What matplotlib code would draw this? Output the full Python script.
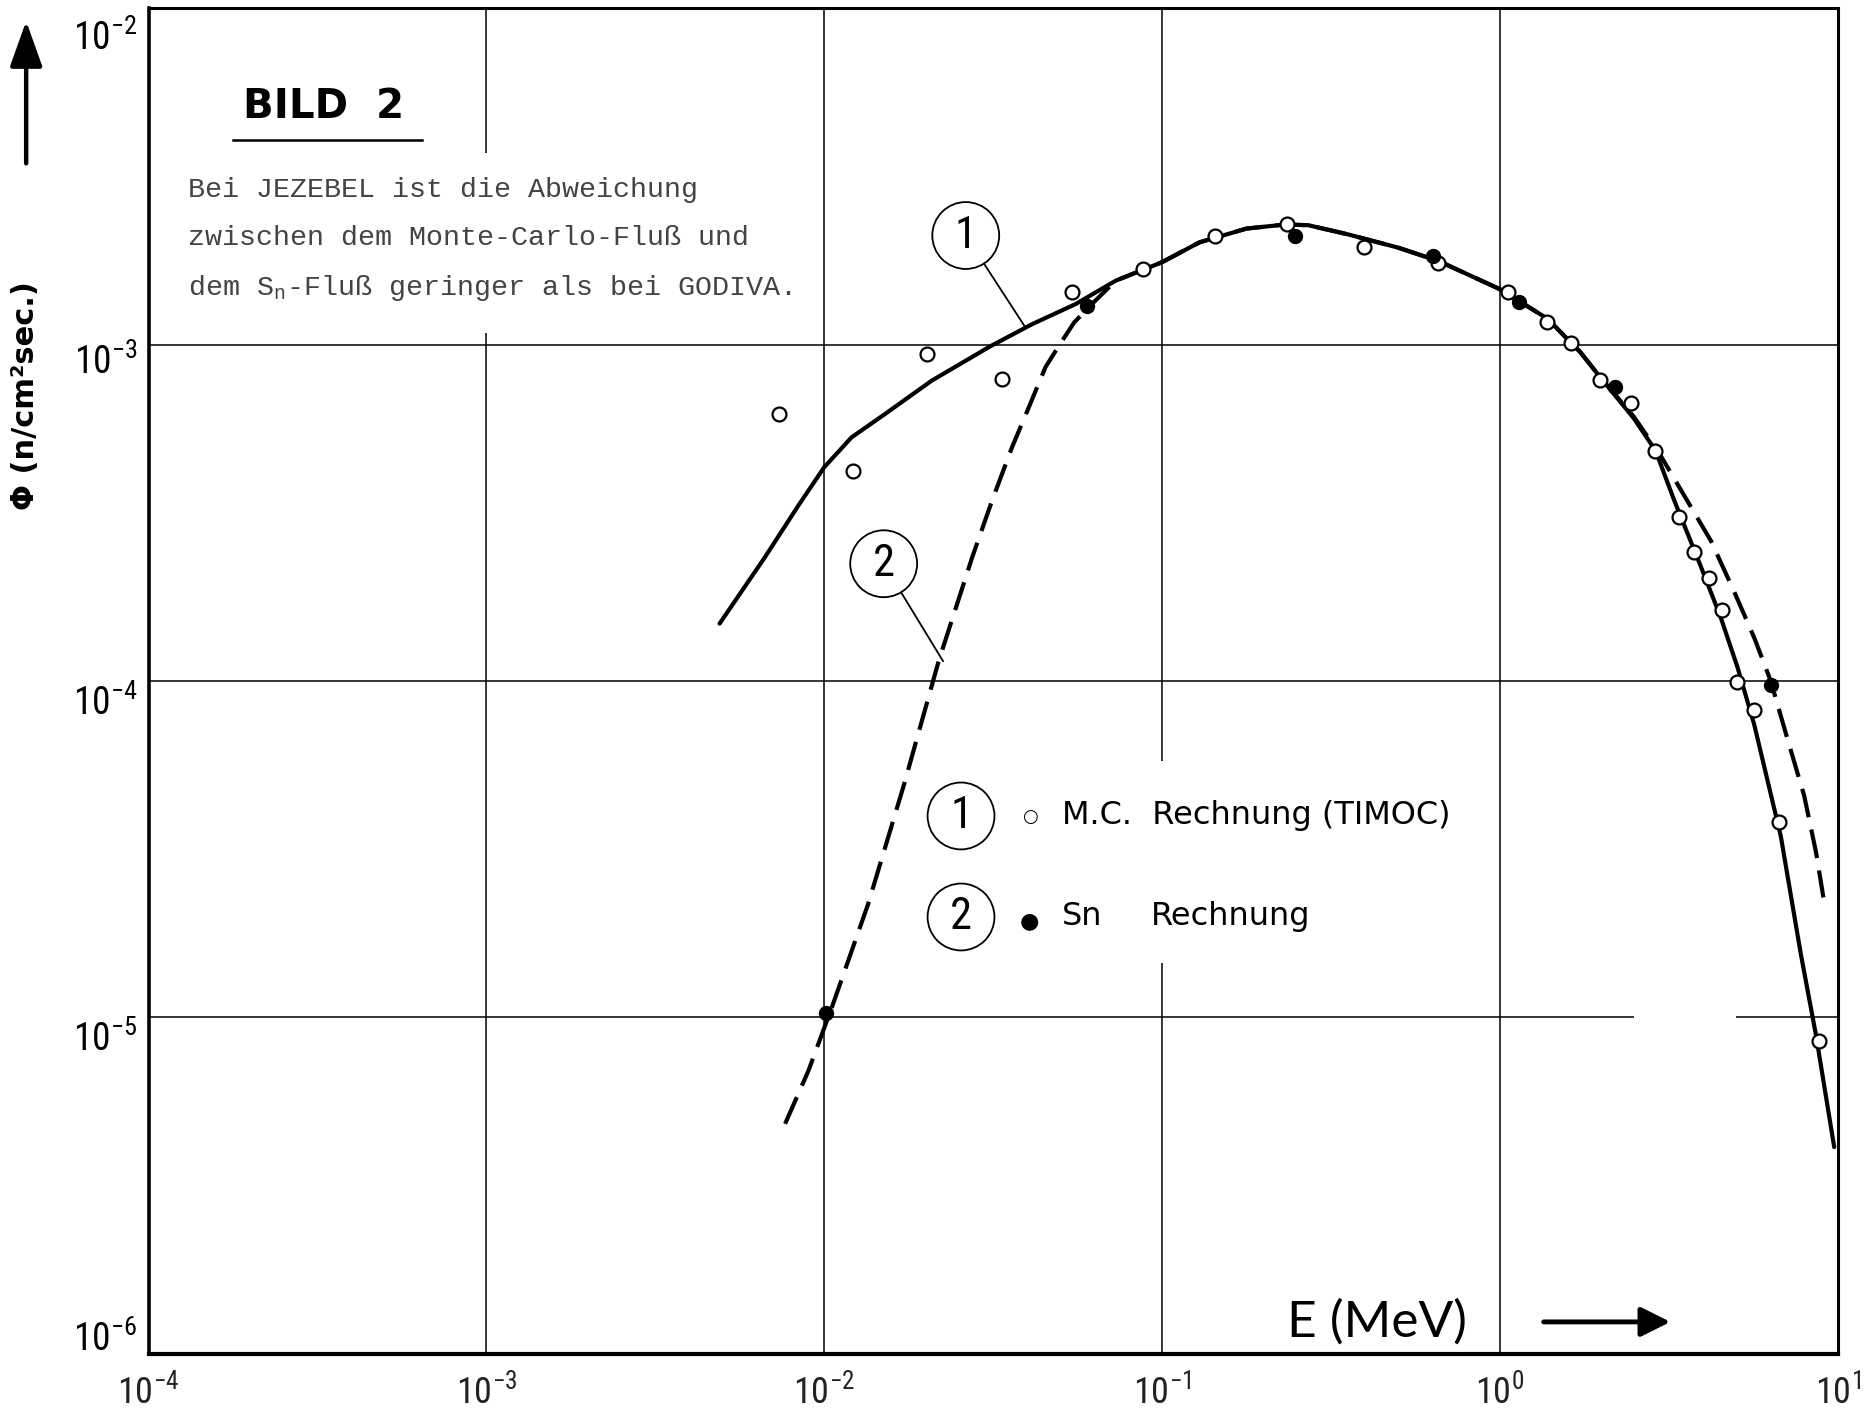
import matplotlib
matplotlib.use('Agg')
import matplotlib.pyplot as plt
from matplotlib import font_manager
from matplotlib.patches import Rectangle
from matplotlib.ticker import NullLocator
from matplotlib.transforms import ScaledTranslation

# ---------------- data ----------------
# Monte-Carlo (TIMOC) results, open circles
mc_E = [0.00734, 0.0122, 0.0202, 0.0335, 0.0543, 0.0878, 0.144, 0.234, 0.397,
        0.656, 1.06, 1.38, 1.63, 1.98, 2.44, 2.89, 3.39, 3.76, 4.17, 4.56,
        5.05, 5.66, 6.71, 8.83]
mc_phi = [6.22e-4, 4.20e-4, 9.4e-4, 7.9e-4, 1.43e-3, 1.68e-3, 2.11e-3, 2.29e-3,
          1.95e-3, 1.75e-3, 1.43e-3, 1.17e-3, 1.01e-3, 7.84e-4, 6.7e-4, 4.84e-4,
          3.08e-4, 2.41e-4, 2.02e-4, 1.63e-4, 9.9e-5, 8.2e-5, 3.8e-5, 8.5e-6]

# Sn results, filled dots
sn_E = [0.0101, 0.0600, 0.248, 0.635, 1.14, 2.2, 6.34]
sn_phi = [1.03e-5, 1.30e-3, 2.11e-3, 1.84e-3, 1.34e-3, 7.5e-4, 9.7e-5]

# curve 1 (solid)
curve1_E = [0.00490, 0.00667, 0.00838, 0.0100, 0.01205, 0.01514, 0.02084,
            0.03105, 0.0413, 0.0556, 0.0729, 0.100, 0.1291, 0.1778, 0.2307,
            0.2710, 0.3548, 0.5012, 0.6607, 1.0, 1.384, 1.734, 1.995, 2.495,
            2.891, 3.281, 3.936, 4.508, 5.058, 5.662, 6.792, 7.780, 8.630, 9.772]
curve1_phi = [1.48e-4, 2.33e-4, 3.32e-4, 4.32e-4, 5.30e-4, 6.22e-4, 7.82e-4,
              9.89e-4, 1.151e-3, 1.321e-3, 1.549e-3, 1.758e-3, 2.014e-3,
              2.213e-3, 2.275e-3, 2.265e-3, 2.128e-3, 1.941e-3, 1.770e-3,
              1.462e-3, 1.194e-3, 9.48e-4, 7.94e-4, 6.03e-4, 4.84e-4, 3.45e-4,
              2.19e-4, 1.545e-4, 1.096e-4, 7.43e-5, 3.45e-5, 1.545e-5, 8.85e-6,
              4.11e-6]

# curve 2 (dashed)
curve2_E = [0.00766, 0.00899, 0.01059, 0.01349, 0.01722, 0.02183, 0.02742,
            0.03141, 0.03597, 0.04036, 0.04519, 0.04955, 0.05495, 0.0631,
            0.0729, 0.100, 0.1291, 0.1778, 0.2307, 0.2710, 0.3548, 0.5012,
            0.6607, 1.0, 1.384, 1.734, 1.995, 2.495, 2.992, 3.508, 4.217,
            4.943, 5.662, 6.339, 7.112, 7.962, 8.630, 9.078]
curve2_phi = [4.82e-6, 6.95e-6, 1.086e-5, 2.17e-5, 4.91e-5, 1.148e-4, 2.33e-4,
              3.44e-4, 4.95e-4, 6.52e-4, 8.57e-4, 9.93e-4, 1.164e-3, 1.343e-3,
              1.549e-3, 1.758e-3, 2.014e-3, 2.213e-3, 2.275e-3, 2.265e-3,
              2.128e-3, 1.941e-3, 1.770e-3, 1.462e-3, 1.194e-3, 9.48e-4,
              7.94e-4, 6.10e-4, 4.68e-4, 3.57e-4, 2.61e-4, 1.841e-4, 1.346e-4,
              1.0e-4, 6.70e-5, 4.56e-5, 3.10e-5, 2.27e-5]

x_ticks = [1e-4, 1e-3, 1e-2, 1e-1, 1e0, 1e1]
x_tick_labels = [r'$\mathregular{10^{-4}}$', r'$\mathregular{10^{-3}}$',
                 r'$\mathregular{10^{-2}}$', r'$\mathregular{10^{-1}}$',
                 r'$\mathregular{10^{0}}$', r'$\mathregular{10^{1}}$']
y_ticks = [1e-6, 1e-5, 1e-4, 1e-3, 1e-2]
y_tick_labels = [r'$\mathregular{10^{-6}}$', r'$\mathregular{10^{-5}}$',
                 r'$\mathregular{10^{-4}}$', r'$\mathregular{10^{-3}}$',
                 r'$\mathregular{10^{-2}}$']
# vertical shift (points, downward) of each y label's baseline as printed
y_label_drop = [-2, 24, 24.5, 21, 30]

title_text = 'BILD  2'
note_lines = ['Bei JEZEBEL ist die Abweichung',
              'zwischen dem Monte-Carlo-Fluß und',
              r'dem $\mathregular{S_n}$-Fluß geringer als bei GODIVA.']
legend_mc = 'M.C.  Rechnung (TIMOC)'
legend_sn = ('Sn', 'Rechnung')
x_label = 'E (MeV)'
y_label = 'Φ (n/cm²sec.)'

# ---------------- fonts ----------------
available = {f.name for f in font_manager.fontManager.ttflist}


def pick(*names):
    for n in names:
        if n in available:
            return n
    return 'DejaVu Sans'


cond = pick('DejaVu Sans Condensed', 'Liberation Sans Narrow', 'Roboto Condensed',
            'DejaVu Sans')
mono = pick('Liberation Mono', 'DejaVu Sans Mono')
light = pick('Lato', 'Open Sans', 'DejaVu Sans')

# ---------------- figure ----------------
fig = plt.figure(figsize=(18.65, 14.08), dpi=100)
fig.patch.set_facecolor('white')
ax = fig.add_axes([0.0797, 0.0387, 0.9056, 0.9554])
ax.set_xscale('log')
ax.set_yscale('log')
ax.set_xlim(1e-4, 1e1)
ax.set_ylim(1e-6, 1e-2)
ax.set_xticks(x_ticks)
ax.set_xticklabels(x_tick_labels, family=cond, fontsize=26, color='#222222')
ax.set_yticks(y_ticks)
ax.set_yticklabels(y_tick_labels, family=cond, fontsize=27)
ax.xaxis.set_minor_locator(NullLocator())
ax.yaxis.set_minor_locator(NullLocator())
ax.tick_params(axis='both', length=0)
ax.tick_params(axis='y', pad=8)
ax.tick_params(axis='x', pad=14)
for lab, drop in zip(ax.get_yticklabels(), y_label_drop):
    lab.set_verticalalignment('baseline')
    lab.set_transform(lab.get_transform() +
                      ScaledTranslation(0, -drop / 72.0, fig.dpi_scale_trans))
ax.grid(True, which='major', color='black', lw=1.1)

for side, lw in (('left', 2.6), ('bottom', 3.0), ('top', 2.2), ('right', 2.2)):
    ax.spines[side].set_linewidth(lw)
    ax.spines[side].set_color('black')

# white areas hiding the grid behind the note, the legend and a print gap
ax.add_patch(Rectangle((0.0176, 0.7586), 0.373, 0.1335, transform=ax.transAxes,
                       fc='white', ec='none', zorder=2))
ax.add_patch(Rectangle((0.4577, 0.29), 0.324, 0.1503, transform=ax.transAxes,
                       fc='white', ec='none', zorder=2))
ax.add_patch(Rectangle((0.8796, 0.245), 0.0605, 0.01, transform=ax.transAxes,
                       fc='white', ec='none', zorder=2))

# curves and points
ax.plot(curve1_E, curve1_phi, color='black', lw=3.0, solid_capstyle='round',
        solid_joinstyle='round', zorder=3)
ax.plot(curve2_E, curve2_phi, color='black', lw=3.0, dashes=(7, 3), zorder=3)
ax.plot(mc_E, mc_phi, ls='none', marker='o', ms=10, mfc='white', mec='black',
        mew=1.6, zorder=4)
ax.plot(sn_E, sn_phi, ls='none', marker='o', ms=10, mfc='black', mec='black',
        zorder=5)

# title block
ax.text(0.1035, 0.9266, title_text, transform=ax.transAxes, ha='center',
        va='center', fontsize=29, fontweight='bold', family='DejaVu Sans', zorder=6)
ax.plot([0.05, 0.162], [0.9019, 0.9019], transform=ax.transAxes, color='black',
        lw=1.8, zorder=6)
for line, yy in zip(note_lines, (0.8647, 0.8294, 0.7922)):
    ax.text(0.0232, yy, line, transform=ax.transAxes, ha='left', va='center',
            family=mono, fontsize=20.4, color='#444444', zorder=6)

# circled numbers
circ_kw = dict(xycoords='axes fraction', textcoords='axes fraction', ha='center',
               va='center', fontsize=32, family=cond, zorder=6,
               bbox=dict(boxstyle='circle,pad=0.28', fc='white', ec='black', lw=1.3))
line_kw = dict(arrowstyle='-', lw=1.3, color='black', shrinkA=0, shrinkB=0)
ax.annotate('1', xy=(0.519, 0.763), xytext=(0.4838, 0.8311), arrowprops=line_kw,
            **circ_kw)
ax.annotate('2', xy=(0.4704, 0.5146), xytext=(0.4352, 0.5871), arrowprops=line_kw,
            **circ_kw)
ax.annotate('1', xy=(0.481, 0.3996), xytext=(0.481, 0.3996), **circ_kw)
ax.annotate('2', xy=(0.481, 0.3245), xytext=(0.481, 0.3245), **circ_kw)

# legend text
ax.text(0.5218, 0.3990, '○', transform=ax.transAxes, ha='center', va='center',
        fontsize=13, zorder=6)
ax.text(0.5218, 0.3215, '●', transform=ax.transAxes, ha='center', va='center',
        fontsize=16, zorder=6)
ax.text(0.5408, 0.3996, legend_mc, transform=ax.transAxes, ha='left',
        va='center', fontsize=23, zorder=6)
ax.text(0.5408, 0.3245, legend_sn[0], transform=ax.transAxes, ha='left',
        va='center', fontsize=23, zorder=6)
ax.text(0.5937, 0.3245, legend_sn[1], transform=ax.transAxes, ha='left',
        va='center', fontsize=23, zorder=6)

# axis labels with arrows
ax.text(0.727, 0.0235, x_label, transform=ax.transAxes, ha='center',
        va='center', fontsize=37, family=light, fontweight='normal',
        color='black', zorder=6)
ax.annotate('', xy=(0.901, 0.0235), xytext=(0.826, 0.0235),
            xycoords='axes fraction', textcoords='axes fraction',
            arrowprops=dict(arrowstyle='-|>,head_length=0.9,head_width=0.45',
                            lw=3.5, color='black', shrinkA=0, shrinkB=0,
                            mutation_scale=20), zorder=6)

fig.text(0.0139, 0.719, y_label, rotation=90, ha='center', va='center',
         fontsize=22, fontweight='bold')
ax.annotate('', xy=(0.01403, 0.985), xytext=(0.01403, 0.884),
            xycoords='figure fraction', textcoords='figure fraction',
            annotation_clip=False,
            arrowprops=dict(arrowstyle='-|>,head_length=1.4,head_width=0.5',
                            lw=3.2, color='black', shrinkA=0, shrinkB=0,
                            mutation_scale=20))

fig.savefig('out.png', dpi=100, facecolor='white')
